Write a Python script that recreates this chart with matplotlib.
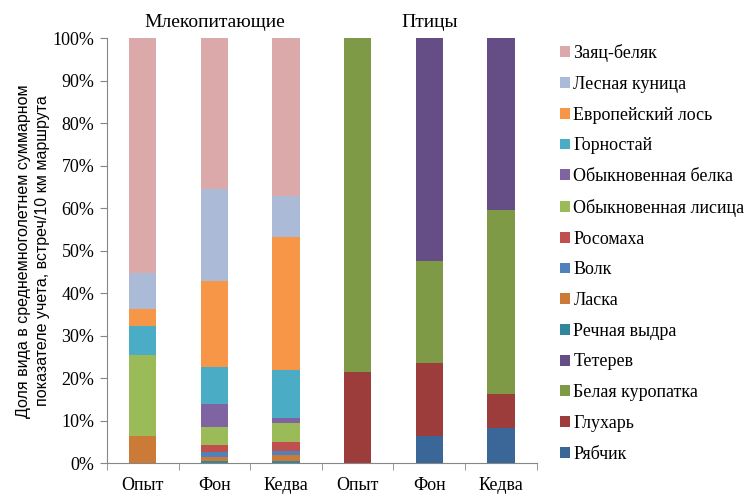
import matplotlib
matplotlib.use('Agg')
import matplotlib.pyplot as plt
from matplotlib.patches import Patch
from matplotlib.font_manager import FontProperties
import numpy as np

# categories (3 mammal columns + 3 bird columns)
categories = ['Опыт', 'Фон', 'Кедва', 'Опыт', 'Фон', 'Кедва']
group_titles = ['Млекопитающие', 'Птицы']

# species, from bottom of stack to top, with shares (%) per column
species = ['Рябчик', 'Глухарь', 'Белая куропатка', 'Тетерев',
           'Речная выдра', 'Ласка', 'Волк', 'Росомаха',
           'Обыкновенная лисица', 'Обыкновенная белка', 'Горностай',
           'Европейский лось', 'Лесная куница', 'Заяц-беляк']
ryabchik   = [0, 0, 0, 0.0, 6.4, 8.2]
gluhar     = [0, 0, 0, 21.4, 17.1, 8.2]
kuropatka  = [0, 0, 0, 78.6, 24.1, 43.1]
teterev    = [0, 0, 0, 0.0, 52.4, 40.5]
vydra      = [0.0, 0.5, 0.5, 0, 0, 0]
laska      = [6.4, 0.9, 1.5, 0, 0, 0]
volk       = [0.0, 1.3, 0.9, 0, 0, 0]
rosomaha   = [0.0, 1.5, 2.2, 0, 0, 0]
lisica     = [19.0, 4.3, 4.4, 0, 0, 0]
belka      = [0.0, 5.4, 1.2, 0, 0, 0]
gornostai  = [6.9, 8.7, 11.3, 0, 0, 0]
los        = [4.1, 20.3, 31.2, 0, 0, 0]
kunica     = [8.3, 21.6, 9.7, 0, 0, 0]
zayac      = [55.3, 35.5, 37.1, 0, 0, 0]

values = [ryabchik, gluhar, kuropatka, teterev, vydra, laska, volk, rosomaha,
          lisica, belka, gornostai, los, kunica, zayac]
colors = ['#3B6798', '#9C3D3B', '#7E9A46', '#654E85',
          '#31869D', '#CB7A37', '#4F81BD', '#C0504D',
          '#9BBB59', '#8064A2', '#4BACC6', '#F79646', '#AABAD7', '#DBA9A9']

plt.rcParams['font.family'] = 'serif'
plt.rcParams['font.serif'] = ['Liberation Serif', 'Times New Roman', 'DejaVu Serif']

fig = plt.figure(figsize=(7.55, 4.94), dpi=100)
ax = fig.add_axes([0.1417, 0.0621, 0.5692, 0.8604])

x = np.arange(len(categories))
bottom = np.zeros(len(categories))
for vals, c in zip(values, colors):
    vals = np.array(vals, dtype=float)
    ax.bar(x, vals, 0.38, bottom=bottom, color=c, linewidth=0)
    bottom += vals

ax.set_xlim(-0.5, len(categories) - 0.5)
ax.set_ylim(0, 100)
ax.set_yticks(np.arange(0, 101, 10))
ax.set_yticklabels(['%d%%' % v for v in range(0, 101, 10)], fontsize=13)
ax.set_xticks(x)
ax.set_xticklabels(categories, fontsize=13)
ax.set_xticks(np.arange(-0.5, len(categories)), minor=True)
ax.tick_params(axis='x', which='major', length=0, pad=10)
ax.tick_params(axis='x', which='minor', length=5, color='#868686', direction='out')
ax.tick_params(axis='y', length=5, color='#868686', direction='out', pad=4)
for s in ['top', 'right']:
    ax.spines[s].set_visible(False)
for s in ['left', 'bottom']:
    ax.spines[s].set_color('#868686')

ax.text(1, 101.8, group_titles[0], ha='center', va='bottom', fontsize=14)
ax.text(4, 101.8, group_titles[1], ha='center', va='bottom', fontsize=14)

ax.set_ylabel('Доля вида в среднемноголетнем суммарном\nпоказателе учета, встреч/10 км маршрута',
              fontsize=11.5, family=['Liberation Sans Narrow', 'Liberation Sans'],
              linespacing=1.3, labelpad=2)

handles = [Patch(facecolor=c, label=s) for s, c in zip(species, colors)][::-1]
fig.legend(handles=handles, loc='upper left', bbox_to_anchor=(0.732, 0.925),
           frameon=False, prop=FontProperties(family='serif', size=13),
           handlelength=0.55, handleheight=0.55, handletextpad=0.2,
           labelspacing=0.76, borderaxespad=0)

plt.savefig('out.png', dpi=100)
